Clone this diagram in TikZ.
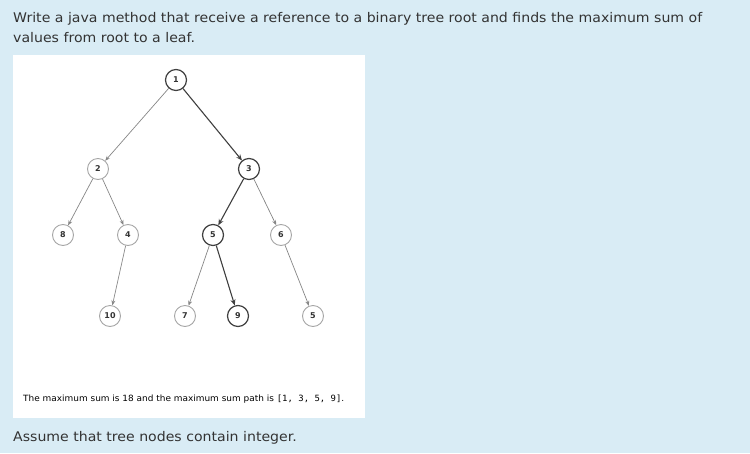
\documentclass[tikz,border=0pt]{standalone}
\usepackage{fontspec}
\setmainfont{DejaVu Sans}
\setmonofont{DejaVu Sans Mono}
\usetikzlibrary{arrows.meta}
\definecolor{bgc}{HTML}{D9ECF5}
\definecolor{txt}{HTML}{333333}
\begin{document}
\begin{tikzpicture}[x=1pt,y=-1pt,
  tn/.style={circle,draw=gray!70,line width=0.9pt,fill=white,minimum size=21pt,inner sep=0pt,font=\fontsize{8}{9}\selectfont\bfseries},
  pn/.style={tn,draw=black!75,line width=1.2pt},
  ed/.style={draw=gray!95,line width=0.7pt,-{Stealth[length=5pt,width=4pt]}},
  pe/.style={draw=black!75,line width=1.1pt,-{Stealth[length=6pt,width=5pt]}},
  every node/.append style={text=txt}]
\fill[bgc] (0,0) rectangle (750,453);
\useasboundingbox (0,0) rectangle (750,453);
\fill[white] (13,55) rectangle (365,418);
\node[anchor=base west,inner sep=0pt,font=\fontsize{13.3}{15}\selectfont,xscale=1.06] (t1) at (13,22) {Write a java method that receive a reference to a binary tree root and finds the maximum sum of};
\node[anchor=base west,inner sep=0pt,font=\fontsize{13.3}{15}\selectfont,xscale=1.06] (t2) at (13,42) {values from root to a leaf.};
\node[anchor=base west,inner sep=0pt,font=\fontsize{13.3}{15}\selectfont,xscale=1.06] (t3) at (13,441) {Assume that tree nodes contain integer.};
\node[anchor=base west,inner sep=0pt,font=\fontsize{8.6}{10}\selectfont,xscale=1.04,text=black] (cap) at (23,401) {The maximum sum is 18 and the maximum sum path is {\ttfamily [1, 3, 5, 9]}.};
\node[pn] (n1) at (176,80) {1};
\node[tn] (n2) at (98,169) {2};
\node[pn] (n3) at (249,169) {3};
\node[tn] (n8) at (63,235) {8};
\node[tn] (n4) at (128,235) {4};
\node[pn] (n5) at (213,235) {5};
\node[tn] (n6) at (281,235) {6};
\node[tn] (n10) at (110,316) {10};
\node[tn] (n7) at (185,316) {7};
\node[pn] (n9) at (238,316) {9};
\node[tn] (n5b) at (313,316) {5};
\draw[ed] (n1) -- (n2);
\draw[pe] (n1) -- (n3);
\draw[ed] (n2) -- (n8);
\draw[ed] (n2) -- (n4);
\draw[pe] (n3) -- (n5);
\draw[ed] (n3) -- (n6);
\draw[ed] (n4) -- (n10);
\draw[ed] (n5) -- (n7);
\draw[pe] (n5) -- (n9);
\draw[ed] (n6) -- (n5b);
\end{tikzpicture}
\end{document}
